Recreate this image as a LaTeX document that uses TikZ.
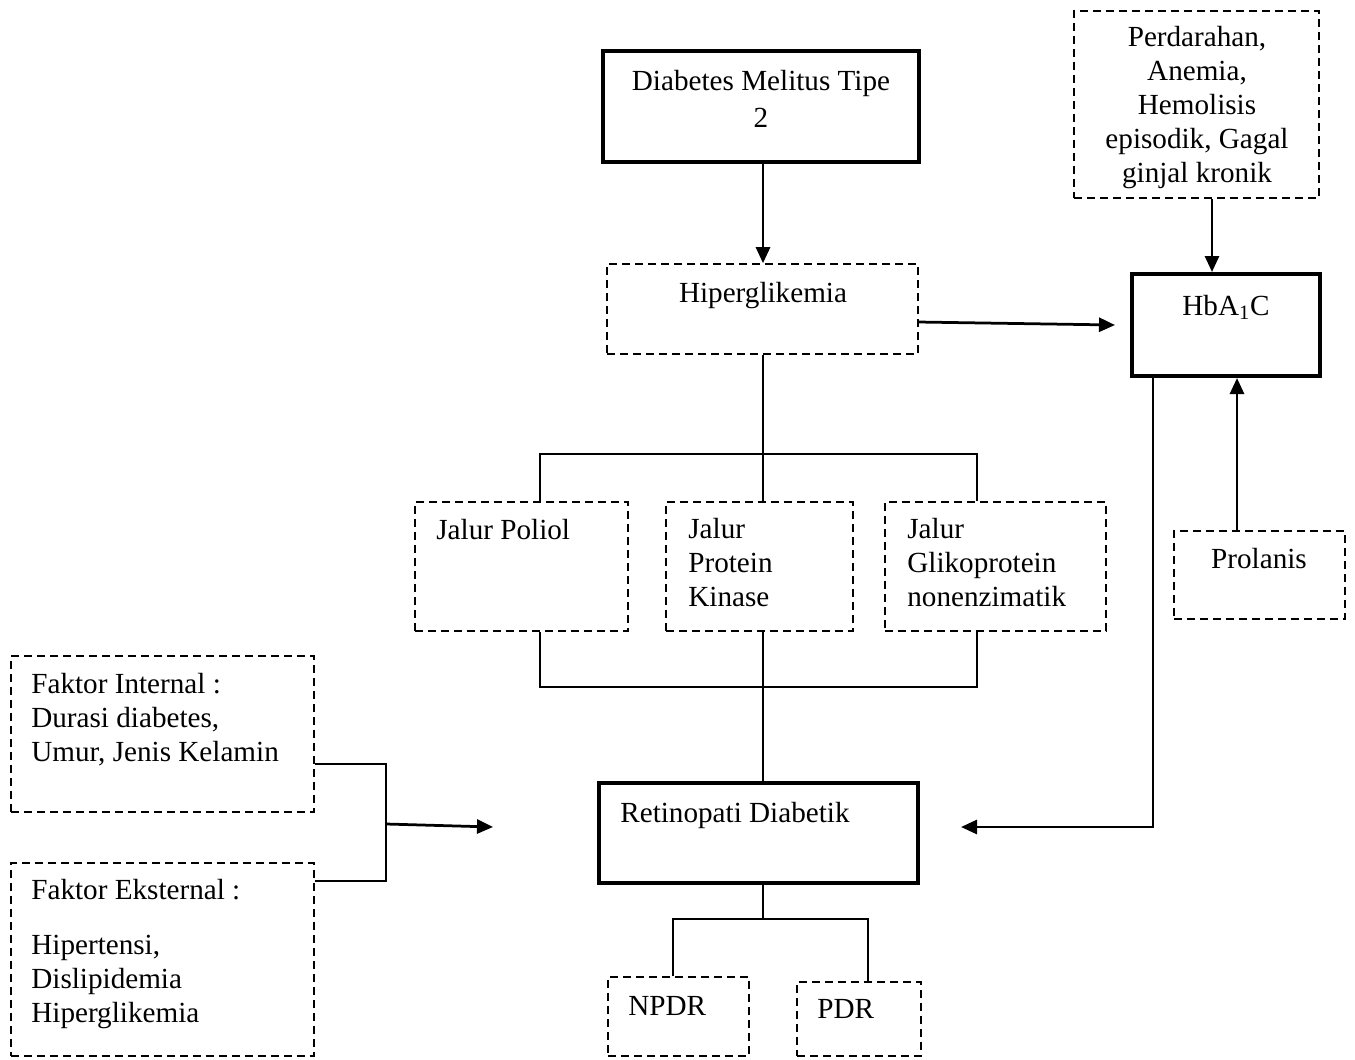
\documentclass[tikz,border=0pt]{standalone}
\usepackage{fontspec}
\setmainfont{Liberation Serif}
\usetikzlibrary{arrows.meta,fit}
\begin{document}
\begin{tikzpicture}[x=0.02cm,y=-0.02cm,
  dbox/.style={draw, line width=0.032cm, dash pattern=on 0.16cm off 0.1cm, inner sep=0pt},
  tbox/.style={draw, line width=0.08cm, inner sep=0pt},
  txt/.style={inner sep=0pt, align=left, font=\fontsize{16.6}{19.3}\selectfont},
  ctxt/.style={txt, align=center},
  conn/.style={line width=0.04cm},
  arr/.style={line width=0.055cm, -{Triangle[length=0.32cm,width=0.28cm]}}]
\useasboundingbox (0,0) rectangle (1355,1059);

% boxes
\node[tbox, fit={(603,51) (919,162)}] (dm) {};
\node[dbox, fit={(607,264) (918,354)}] (hyp) {};
\node[dbox, fit={(1074,11) (1319,198)}] (per) {};
\node[tbox, fit={(1132,274) (1320,376)}] (hb) {};
\node[dbox, fit={(1174,531) (1345,619)}] (pro) {};
\node[dbox, fit={(415,502) (628,631)}] (pol) {};
\node[dbox, fit={(666,502) (853,631)}] (pk) {};
\node[dbox, fit={(885,502) (1106,631)}] (gly) {};
\node[dbox, fit={(11,656) (314,812)}] (fi) {};
\node[dbox, fit={(11,863) (314,1056)}] (fe) {};
\node[tbox, fit={(599,783) (918,883)}] (ret) {};
\node[dbox, fit={(608,977) (749,1056)}] (npdr) {};
\node[dbox, fit={(797,982) (921,1056)}] (pdr) {};

% texts (base anchor = baseline of the last line)
\node[ctxt, anchor=base, font=\fontsize{16.6}{20.5}\selectfont] (tdm) at (761,127) {Diabetes Melitus Tipe\\2};
\node[ctxt, anchor=base] (thyp) at (763,302) {Hiperglikemia};
\node[ctxt, anchor=base] (tper) at (1197,182) {Perdarahan,\\Anemia,\\Hemolisis\\episodik, Gagal\\ginjal kronik};
\node[ctxt, anchor=base] (thb) at (1226,315) {HbA\textsubscript{1}C};
\node[ctxt, anchor=base] (tpro) at (1259,568) {Prolanis};
\node[txt, anchor=base west] (tpol) at (436,539) {Jalur Poliol};
\node[txt, anchor=base west] (tpk) at (688,606) {Jalur\\Protein\\Kinase};
\node[txt, anchor=base west] (tgly) at (907,606) {Jalur\\Glikoprotein\\nonenzimatik};
\node[txt, anchor=base west] (tfi) at (31,761) {Faktor Internal :\\Durasi diabetes,\\Umur, Jenis Kelamin};
\node[txt, anchor=base west] (tfe) at (31,1022) {Faktor Eksternal :\\[0.42cm]Hipertensi,\\Dislipidemia\\Hiperglikemia};
\node[txt, anchor=base west] (tret) at (620,822) {Retinopati Diabetik};
\node[txt, anchor=base west] (tnpdr) at (628,1015) {NPDR};
\node[txt, anchor=base west] (tpdr) at (817,1018) {PDR};

% junction coordinates
\coordinate (ax) at (763,0);
\coordinate (jL) at (540,454);
\coordinate (jR) at (977,454);
\coordinate (bL) at (540,687);
\coordinate (bR) at (977,687);
\coordinate (nL) at (673,919);
\coordinate (nR) at (868,919);
\coordinate (fj1) at (386,764);
\coordinate (fj2) at (386,881);
\coordinate (fmid) at (386,824);
\coordinate (fend) at (493,827);
\coordinate (hout) at (918,322);
\coordinate (hin) at (1115,325);
\coordinate (pax) at (1212,0);
\coordinate (prax) at (1237,0);
\coordinate (hbl) at (1153,827);
\coordinate (rend) at (961,827);

% connectors
\draw[arr] (ax |- dm.south) -- (ax |- hyp.north);
\draw[conn] (ax |- hyp.south) -- (ax |- pk.north);
\draw[conn] (jL |- pol.north) -- (jL) -- (jR) -- (jR |- gly.north);
\draw[conn] (jL |- pol.south) -- (bL) -- (bR) -- (bR |- gly.south);
\draw[conn] (ax |- pk.south) -- (ax |- ret.north);
\draw[conn] (ax |- ret.south) -- (ax |- nL);
\draw[conn] (nL |- npdr.north) -- (nL) -- (nR) -- (nR |- pdr.north);
\draw[conn] (fi.east |- fj1) -- (fj1) -- (fj2) -- (fe.east |- fj2);
\draw[arr] (fmid) -- (fend);
\draw[arr] (hout) -- (hin);
\draw[arr] (pax |- per.south) -- (pax |- hb.north);
\draw[arr] (prax |- pro.north) -- (prax |- hb.south);
\draw[arr] (hbl |- hb.south) -- (hbl) -- (rend);
\end{tikzpicture}
\end{document}
